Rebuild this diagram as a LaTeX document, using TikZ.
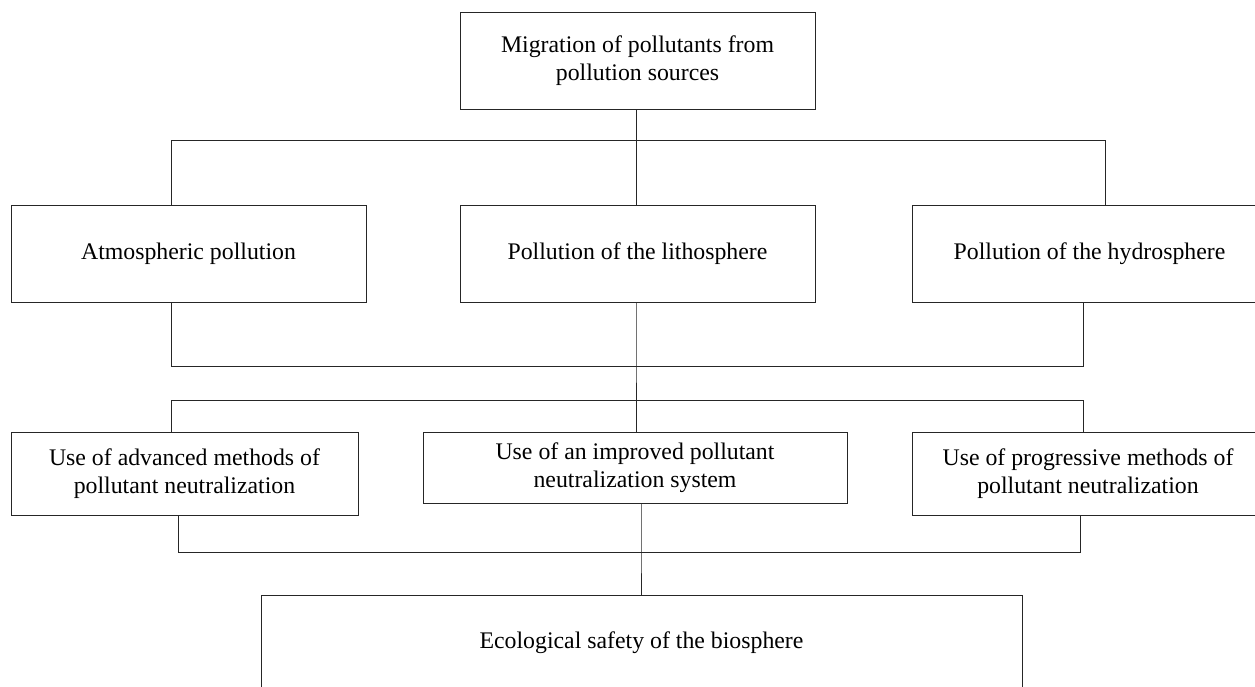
\documentclass[tikz,border=0pt]{standalone}
\usepackage{fontspec}
\setmainfont{Liberation Serif}
\usetikzlibrary{calc}
\begin{document}
\begin{tikzpicture}[x=1pt,y=-1pt,
  box/.style={draw=black!85,line width=0.9pt,inner sep=0pt,outer sep=0pt,align=center,
    font=\fontsize{23.8}{27.5}\selectfont},
  conn/.style={draw=black!85,line width=0.9pt}]
\useasboundingbox (0,0) rectangle (1255,686);
\clip (0,0) rectangle (1255,686);
% row 0
\node[box,minimum width=355,minimum height=97] (top) at (637.5,60.5) {Migration of pollutants from\\pollution sources};
% row 1
\node[box,minimum width=355,minimum height=97] (atm) at (188.5,253.5) {Atmospheric pollution};
\node[box,minimum width=355,minimum height=97] (lit) at (637.5,253.5) {Pollution of the lithosphere};
\node[box,minimum width=355,minimum height=97] (hyd) at (1089.5,253.5) {Pollution of the hydrosphere};
% row 2
\node[box,minimum width=347,minimum height=83] (m1) at (184.5,473.5) {Use of advanced methods of\\pollutant neutralization};
\node[box,minimum width=424,minimum height=71] (m2) at (635,467.5) {Use of an improved pollutant\\neutralization system};
\node[box,minimum width=352,minimum height=83] (m3) at (1088,473.5) {Use of progressive methods of\\pollutant neutralization};
% row 3
\node[box,minimum width=761,minimum height=96] (eco) at (641.5,643) {Ecological safety of the biosphere};
% bus coordinates
\coordinate (a1) at (171,140); \coordinate (c1) at (636,140); \coordinate (b1) at (1105,140);
\coordinate (a2) at (171,366); \coordinate (c2) at (636,366); \coordinate (b2) at (1083,366);
\coordinate (a3) at (171,400); \coordinate (c3) at (636,400); \coordinate (b3) at (1083,400);
\coordinate (a4) at (178,552); \coordinate (c4) at (641,552); \coordinate (b4) at (1080,552);
% connectors
\draw[conn] (top.south -| c1) -- (c1);
\draw[conn] (a1 |- atm.north) -- (a1) -- (b1) -- (b1 |- hyd.north);
\draw[conn] (c1) -- (c1 |- lit.north);
\draw[conn] (a2 |- atm.south) -- (a2) -- (b2) -- (b2 |- hyd.south);
\draw[conn] (c2 |- lit.south) -- (c2) -- (c3);
\draw[conn] (a3 |- m1.north) -- (a3) -- (b3) -- (b3 |- m3.north);
\draw[conn] (c3) -- (c3 |- m2.north);
\draw[conn] (a4 |- m1.south) -- (a4) -- (b4) -- (b4 |- m3.south);
\draw[conn] (c4 |- m2.south) -- (c4) -- (c4 |- eco.north);
\end{tikzpicture}
\end{document}
